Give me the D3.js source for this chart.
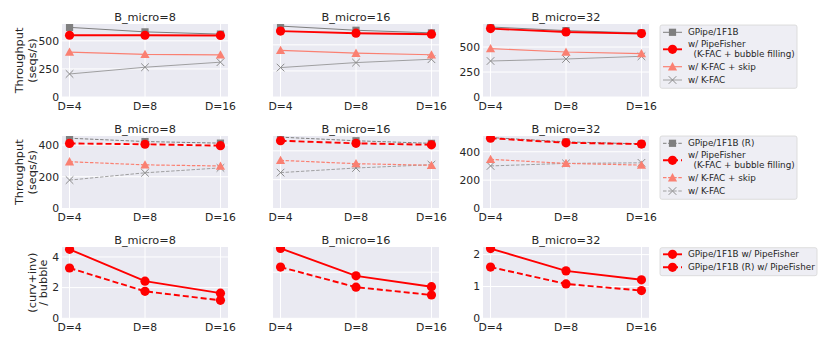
<!DOCTYPE html>
<html lang="en">
<head>
  <meta charset="UTF-8">
  <title>PipeFisher throughput</title>
  <style>
    body { margin: 0; background: #fff; }
    svg { display: block; font-family: 'DejaVu Sans', sans-serif; }
  </style>
</head>
<body>
  <svg id="chart" width="830" height="346"></svg>
  <script src="https://d3js.org/d3.v7.min.js"></script>
  <script>
    // data
    const xLabels = ["D=4", "D=8", "D=16"];
    const bMicro = [8, 16, 32];

    // row 1: throughput
    const gpipe = [[620, 580, 560], [680, 640, 615], [700, 664, 640]];
    const pipeFisher = [[550, 550, 548], [632, 612, 602], [684, 650, 634]];
    const kfacSkip = [[400, 380, 375], [447, 420, 405], [484, 450, 434]];
    const kfac = [[205, 265, 310], [282, 330, 362], [360, 380, 407]];

    // row 2: throughput with recompute (R)
    const gpipeR = [[443, 422, 412], [495, 470, 452], [500, 470, 455]];
    const pipeFisherR = [[410, 405, 396], [470, 452, 442], [495, 463, 454]];
    const kfacSkipR = [[295, 275, 268], [334, 311, 300], [346, 318, 306]];
    const kfacR = [[179, 225, 256], [249, 281, 304], [300, 318, 322]];

    // row 3: (curv+inv) / bubble
    const ratio = [[4.5, 2.42, 1.64], [3.03, 1.84, 1.37], [2.19, 1.49, 1.21]];
    const ratioR = [[3.28, 1.76, 1.17], [2.22, 1.35, 1.01], [1.61, 1.08, 0.87]];

    const yMax = [[650, 700, 730], [457, 503, 511], [4.65, 3.09, 2.24]];
    const yTicks = [
      [[0, 250, 500], [0, 250, 500], [0, 250, 500]],
      [[0, 200, 400], [0, 200, 400], [0, 200, 400]],
      [[0, 2, 4], [0, 2], [0, 1, 2]]
    ];
    const yLabels = [["Throughput", "(seqs/s)"], ["Throughput", "(seqs/s)"], ["(curv+inv)", "/ bubble"]];

    // layout
    const panelLeft = [62, 273, 483], panelW = 166;
    const rowTop = [24, 136, 247], rowBottom = [97, 208.5, 318.3];
    const bg = "#eaeaf2", ink = "#262626";

    // series styles per row
    const styles = {
      gpipe:  { color: "#7f7f7f", lw: 1, marker: "square" },
      pf:     { color: "#ff0000", lw: 1.9, marker: "circle" },
      skip:   { color: "#fa8072", lw: 1.2, marker: "triangle" },
      kfac:   { color: "#8c8c8c", lw: 0.8, marker: "x" }
    };
    const rows = [
      { dash: null, series: [["kfac", kfac], ["skip", kfacSkip], ["gpipe", gpipe], ["pf", pipeFisher]] },
      { dash: true, series: [["kfac", kfacR], ["skip", kfacSkipR], ["gpipe", gpipeR], ["pf", pipeFisherR]] },
      { dash: null, series: [["pf", ratio], ["pfR", ratioR]] }
    ];

    const svg = d3.select("#chart");
    const defs = svg.append("defs");

    function dashFor(key, dashed) {
      if (!dashed) return null;
      return key === "pf" || key === "pfR" ? "6,3" : "3.5,1.6";
    }

    function drawMarker(g, type, x, y, color) {
      if (type === "circle") {
        g.append("circle").attr("cx", x).attr("cy", y).attr("r", 4.6).attr("fill", color);
      } else if (type === "square") {
        g.append("rect").attr("x", x - 3.6).attr("y", y - 3.6).attr("width", 7.2).attr("height", 7.2).attr("fill", color);
      } else if (type === "triangle") {
        const s = 4.6;
        g.append("path").attr("d", `M${x},${y - s}L${x + s},${y + s * 0.8}L${x - s},${y + s * 0.8}Z`).attr("fill", color);
      } else if (type === "x") {
        const s = 3.8;
        g.append("path").attr("d", `M${x - s},${y - s}L${x + s},${y + s}M${x - s},${y + s}L${x + s},${y - s}`)
          .attr("stroke", color).attr("stroke-width", 1).attr("fill", "none");
      }
    }

    rows.forEach((row, r) => {
      const top = rowTop[r], bottom = rowBottom[r];
      bMicro.forEach((bm, c) => {
        const left = panelLeft[c];
        const x = d3.scalePoint().domain(xLabels).range([left, left + panelW]).padding(0.1);
        const y = d3.scaleLinear().domain([0, yMax[r][c]]).range([bottom, top]);
        const g = svg.append("g");

        g.append("rect").attr("x", left).attr("y", top).attr("width", panelW).attr("height", bottom - top).attr("fill", bg);

        // grid
        g.selectAll(".vg").data(xLabels).enter().append("line")
          .attr("x1", d => x(d)).attr("x2", d => x(d)).attr("y1", top).attr("y2", bottom)
          .attr("stroke", "#fff").attr("stroke-width", 1);
        g.selectAll(".hg").data(yTicks[r][c]).enter().append("line")
          .attr("x1", left).attr("x2", left + panelW).attr("y1", d => y(d)).attr("y2", d => y(d))
          .attr("stroke", "#fff").attr("stroke-width", 1);

        // x tick labels
        g.selectAll(".xt").data(xLabels).enter().append("text")
          .attr("x", d => x(d)).attr("y", bottom + 12.5).attr("text-anchor", "middle")
          .attr("font-size", 10.8).attr("fill", ink).text(d => d);

        // y tick labels (middle column has none)
        if (c !== 1) {
          g.selectAll(".yt").data(yTicks[r][c]).enter().append("text")
            .attr("x", left - 3).attr("y", d => y(d)).attr("dy", "0.35em").attr("text-anchor", "end")
            .attr("font-size", 10.8).attr("fill", ink).text(d => d);
        }

        // title
        g.append("text").attr("x", left + panelW / 2).attr("y", top - 3.5).attr("text-anchor", "middle")
          .attr("font-size", 11.3).attr("fill", ink).text("B_micro=" + bm);

        // clipped series
        const clipId = `clip-${r}-${c}`;
        defs.append("clipPath").attr("id", clipId).append("rect")
          .attr("x", left).attr("y", top).attr("width", panelW).attr("height", bottom - top);
        const sg = g.append("g").attr("clip-path", `url(#${clipId})`);
        const line = d3.line().x((d, i) => x(xLabels[i])).y(d => y(d));

        row.series.forEach(([key, vals]) => {
          const st = styles[key === "pfR" ? "pf" : key];
          const dashed = row.dash || key === "pfR";
          sg.append("path").attr("d", line(vals[c])).attr("fill", "none")
            .attr("stroke", st.color).attr("stroke-width", st.lw)
            .attr("stroke-dasharray", dashFor(key, dashed));
          vals[c].forEach((v, i) => drawMarker(sg, st.marker, x(xLabels[i]), y(v), st.color));
        });
      });

      // y axis label, two centered lines
      const mid = (rowTop[r] + rowBottom[r]) / 2;
      const lx = r === 2 ? [31.7, 42.8] : [18.7, 31.7];
      yLabels[r].forEach((t, k) => {
        svg.append("text").attr("transform", `translate(${lx[k]},${mid}) rotate(-90)`)
          .attr("text-anchor", "middle").attr("dy", "0.35em")
          .attr("font-size", 11.3).attr("fill", ink).text(t);
      });
    });

    // legends
    const legendRows = [
      { box: [660, 25, 137, 63.3], dashed: false, items: [
        { key: "gpipe", lines: ["GPipe/1F1B"], y: 32.3 },
        { key: "pf", lines: ["w/ PipeFisher", "  (K-FAC + bubble filling)"], y: 49.3 },
        { key: "skip", lines: ["w/ K-FAC + skip"], y: 66.7 },
        { key: "kfac", lines: ["w/ K-FAC"], y: 80 }
      ] },
      { box: [660, 136, 137, 63.3], dashed: true, items: [
        { key: "gpipe", lines: ["GPipe/1F1B (R)"], y: 143.3 },
        { key: "pf", lines: ["w/ PipeFisher", "  (K-FAC + bubble filling)"], y: 160.3 },
        { key: "skip", lines: ["w/ K-FAC + skip"], y: 177.7 },
        { key: "kfac", lines: ["w/ K-FAC"], y: 191 }
      ] },
      { box: [660, 247.7, 157, 28], dashed: false, items: [
        { key: "pf", lines: ["GPipe/1F1B w/ PipeFisher"], y: 254.3 },
        { key: "pfR", lines: ["GPipe/1F1B (R) w/ PipeFisher"], y: 267.3 }
      ] }
    ];

    legendRows.forEach(lr => {
      const lg = svg.append("g");
      lg.append("rect").attr("x", lr.box[0]).attr("y", lr.box[1]).attr("width", lr.box[2]).attr("height", lr.box[3])
        .attr("rx", 2).attr("fill", "#eeeef4").attr("stroke", "#d6d6d6").attr("stroke-width", 0.8);
      lr.items.forEach(it => {
        const st = styles[it.key === "pfR" ? "pf" : it.key];
        const dashed = lr.dashed || it.key === "pfR";
        lg.append("line").attr("x1", 663).attr("x2", 682).attr("y1", it.y).attr("y2", it.y)
          .attr("stroke", st.color).attr("stroke-width", st.lw).attr("stroke-dasharray", dashFor(it.key, dashed));
        drawMarker(lg, st.marker, 672.5, it.y, st.color);
        const n = it.lines.length;
        it.lines.forEach((t, k) => {
          lg.append("text").attr("x", 688).attr("y", it.y + (k - (n - 1) / 2) * 9.8).attr("dy", "0.35em")
            .attr("font-size", 8.8).attr("fill", ink)
            .style("white-space", "pre").text(t);
        });
      });
    });
  </script>
</body>
</html>
